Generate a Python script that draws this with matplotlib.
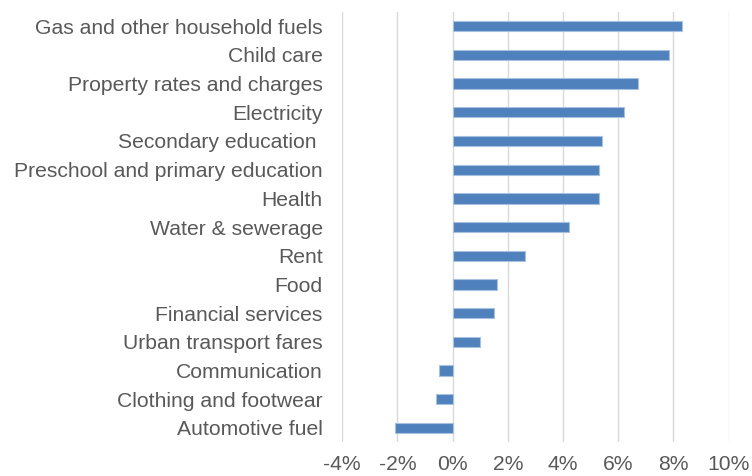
import matplotlib.pyplot as plt
from matplotlib.ticker import FuncFormatter

# Categories (top to bottom) and values in percent
categories = [
    'Gas and other household fuels',
    'Child care',
    'Property rates and charges',
    'Electricity',
    'Secondary education ',
    'Preschool and primary education',
    'Health',
    'Water & sewerage',
    'Rent',
    'Food',
    'Financial services',
    'Urban transport fares',
    'Communication',
    'Clothing and footwear',
    'Automotive fuel',
]
values = [8.30, 7.84, 6.73, 6.21, 5.41, 5.32, 5.32, 4.21,
          2.63, 1.60, 1.51, 1.00, -0.50, -0.59, -2.08]
x_ticks = [-4, -2, 0, 2, 4, 6, 8, 10]

plt.rcParams['font.family'] = ['Liberation Sans', 'DejaVu Sans']
text_color = '#595959'

fig = plt.figure(figsize=(7.52, 4.76), dpi=100)
ax = fig.add_axes([0.455, 0.071, 0.514, 0.904])

y_pos = list(range(len(categories)))[::-1]
ax.barh(y_pos, values, height=0.36, color='#4f81bd',
        edgecolor='#a9c1e0', linewidth=0.8, zorder=3)

ax.set_xlim(-4, 10)
ax.set_ylim(-0.5, len(categories) - 0.5)
ax.set_xticks(x_ticks)
ax.xaxis.set_major_formatter(FuncFormatter(lambda v, p: f'{v:.0f}%'))
ax.set_yticks(y_pos)
ax.set_yticklabels(categories)

ax.grid(axis='x', color='#d9d9d9', linewidth=1.0, zorder=0)
for s in ax.spines.values():
    s.set_visible(False)

ax.tick_params(axis='both', length=0, colors=text_color, labelsize=15.2)
ax.tick_params(axis='y', pad=14)
ax.tick_params(axis='x', pad=9)

fig.savefig('out.png', dpi=100)
